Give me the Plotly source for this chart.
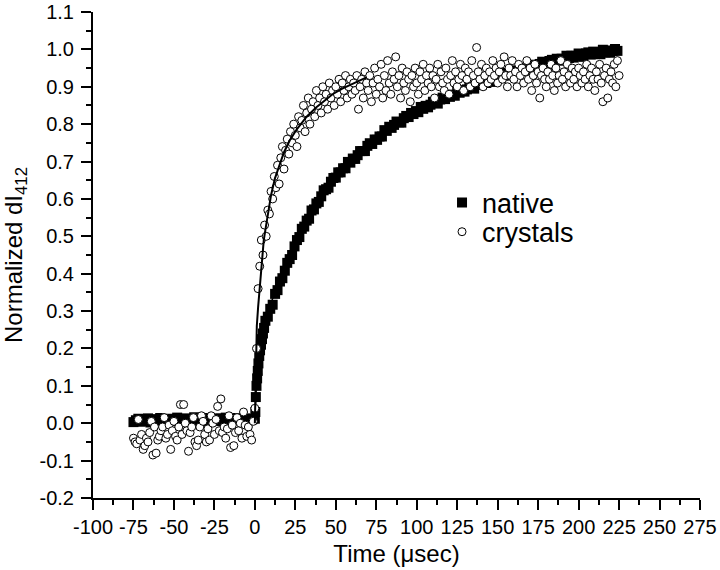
import plotly.graph_objects as go

# native (filled squares) - baseline before the flash, sampled every 1.5 usec from -75
native_pre = [0.003, 0.008, 0.012, 0.004, 0.010, 0.006, 0.013, 0.002, 0.009, 0.011,
              0.005, 0.014, 0.007, 0.003, 0.010, 0.012, 0.006, 0.009, 0.015, 0.004,
              0.008, 0.011, 0.013, 0.006, 0.010, 0.016, 0.007, 0.012, 0.009, 0.005,
              0.011, 0.014, 0.008, 0.010, 0.013, 0.006, 0.012, 0.009, 0.015, 0.007,
              0.011, 0.010, 0.014, 0.008, 0.012, 0.006, 0.013, 0.010, 0.009, 0.011]

# native - fast part right after the flash
native_early_t = [0.0, 0.3, 0.6, 1.0, 1.4, 1.8, 2.2, 2.7, 3.2, 3.8, 4.4, 5.0, 5.7]
native_early_v = [0.012, 0.03, 0.07, 0.10, 0.12, 0.14, 0.16, 0.18, 0.195, 0.21, 0.225, 0.24, 0.255]

# native - slow rise, every 1.5 usec from 6.5
native_rise = [0.274, 0.285, 0.306, 0.317, 0.346, 0.356, 0.379, 0.388, 0.408, 0.429,
               0.439, 0.450, 0.473, 0.490, 0.498, 0.520, 0.526, 0.542, 0.547, 0.569,
               0.572, 0.588, 0.592, 0.607, 0.623, 0.626, 0.630, 0.646, 0.656, 0.657,
               0.671, 0.671, 0.682, 0.682, 0.699, 0.697, 0.708, 0.707, 0.717, 0.728,
               0.728, 0.728, 0.742, 0.749, 0.747, 0.759, 0.758, 0.767, 0.767, 0.784,
               0.782, 0.793, 0.790, 0.798, 0.807, 0.805, 0.804, 0.816, 0.822, 0.819,
               0.830, 0.827, 0.835, 0.832, 0.846, 0.841, 0.849, 0.845, 0.852, 0.860,
               0.857, 0.855, 0.866, 0.871, 0.867, 0.877, 0.873, 0.879, 0.876, 0.889,
               0.884, 0.891, 0.887, 0.893, 0.901, 0.897, 0.895, 0.905, 0.910, 0.905,
               0.915, 0.910, 0.917, 0.913, 0.927, 0.922, 0.929, 0.924, 0.930, 0.937,
               0.933, 0.930, 0.940, 0.944, 0.939, 0.948, 0.943, 0.949, 0.945, 0.958,
               0.952, 0.959, 0.954, 0.961, 0.967, 0.963, 0.959, 0.969, 0.972, 0.967,
               0.975, 0.970, 0.975, 0.971, 0.983, 0.977, 0.983, 0.978, 0.983, 0.989,
               0.984, 0.980, 0.989, 0.992, 0.986, 0.994, 0.988, 0.993, 0.987, 0.999,
               0.992, 0.997, 0.991, 0.996, 1.001, 0.996]

# crystals (open circles) - every 1 usec from -75
crystals_pre = [-0.04, -0.05, -0.055, 0.01, -0.045, -0.03, -0.07, -0.06, -0.04, -0.05,
                -0.025, 0.005, -0.085, -0.01, -0.08, -0.045, -0.035, -0.02, -0.01, 0.015,
                -0.04, -0.03, -0.005, -0.07, -0.02, 0.005, -0.035, -0.045, -0.01, 0.05,
                -0.03, 0.05, 0.0, -0.02, -0.075, -0.025, -0.01, 0.015, -0.05, -0.06,
                -0.045, -0.01, 0.02, 0.005, -0.03, -0.05, -0.015, -0.045, 0.02, 0.0,
                -0.03, 0.01, 0.045, -0.02, 0.065, -0.025, -0.01, -0.04, -0.015, 0.02,
                -0.065, -0.005, -0.06, -0.025, 0.015, -0.02, 0.0, -0.04, 0.03, -0.005,
                -0.035, -0.01, -0.03, -0.045, 0.005]

# crystals - every 1 usec from 0
crystals_post = [0.04, 0.20, 0.36, 0.42, 0.49, 0.45, 0.53, 0.50, 0.57, 0.56,
                 0.62, 0.60, 0.66, 0.63, 0.69, 0.64, 0.71, 0.74, 0.68, 0.73,
                 0.76, 0.72, 0.78, 0.75, 0.80, 0.77, 0.74, 0.82, 0.79, 0.81,
                 0.85, 0.78, 0.83, 0.87, 0.80, 0.84, 0.86, 0.82, 0.89, 0.85,
                 0.87, 0.83, 0.90, 0.86, 0.88, 0.84, 0.91, 0.87, 0.89, 0.85,
                 0.90, 0.88, 0.92, 0.86, 0.91, 0.89, 0.93, 0.87, 0.90, 0.92,
                 0.88, 0.91, 0.89, 0.93, 0.84, 0.90, 0.92, 0.87, 0.94, 0.91,
                 0.89, 0.93, 0.86, 0.91, 0.95, 0.88, 0.92, 0.90, 0.96, 0.87,
                 0.93, 0.89, 0.97, 0.91, 0.88, 0.94, 0.92, 0.98, 0.90, 0.93,
                 0.87, 0.95, 0.91, 0.89, 0.94, 0.92, 0.86, 0.93, 0.90, 0.95,
                 0.91, 0.88, 0.94, 0.92, 0.96, 0.89, 0.93, 0.91, 0.95, 0.90,
                 0.93, 0.87, 0.92, 0.96, 0.90, 0.94, 0.91, 0.89, 0.95, 0.92,
                 0.88, 0.93, 0.97, 0.91, 0.94, 0.90, 0.92, 0.96, 0.93, 0.89,
                 0.95, 0.92, 0.94, 0.90, 0.97, 0.93, 0.91, 1.005, 0.94, 0.92,
                 0.96, 0.90, 0.93, 0.95, 0.91, 0.94, 0.92, 0.97, 0.93, 0.95,
                 0.91, 0.94, 0.96, 0.92, 0.98, 0.93, 0.90, 0.95, 0.93, 0.97,
                 0.92, 0.94, 0.90, 0.96, 0.93, 0.95, 0.91, 0.94, 0.97, 0.92,
                 0.95, 0.89, 0.93, 0.96, 0.91, 0.94, 0.87, 0.93, 0.95, 0.92,
                 0.90, 0.94, 0.92, 0.96, 0.93, 0.89, 0.95, 0.91, 0.93, 0.97,
                 0.92, 0.94, 0.90, 0.96, 0.93, 0.91, 0.95, 0.92, 0.94, 0.90,
                 0.95, 0.93, 0.91, 0.94, 0.92, 0.96, 0.90, 0.93, 0.95, 0.92,
                 0.89, 0.94, 0.92, 0.96, 0.91, 0.86, 0.93, 0.95, 0.87, 0.92,
                 0.94, 0.91, 0.96, 0.90, 0.97, 0.93]

# fitted curves
fit_crystals_t = [0.0, 0.6, 1.2, 2.0, 2.7, 3.5, 4.5, 5.5, 6.8, 8.0, 10.0, 12.4, 14.4,
                  18.0, 21.6, 26.0, 32.0, 38.0, 44.0, 48.0, 54.0, 60.0, 65.0, 69.0]
fit_crystals_v = [0.0, 0.10, 0.26, 0.31, 0.35, 0.40, 0.45, 0.49, 0.525, 0.56, 0.61, 0.655, 0.68,
                  0.725, 0.757, 0.787, 0.82, 0.845, 0.866, 0.88, 0.895, 0.907, 0.917, 0.925]
fit_native_t = [0, 0.5, 1, 2, 3, 4, 6, 9, 12, 15, 20, 25, 30, 40, 50, 60, 75, 90,
                105, 120, 135, 150, 165, 180, 195, 210, 225]
fit_native_v = [0.0, 0.08, 0.11, 0.15, 0.19, 0.215, 0.265, 0.31, 0.345, 0.378, 0.43, 0.48,
                0.525, 0.603, 0.664, 0.713, 0.77, 0.816, 0.853, 0.883, 0.908, 0.93, 0.95,
                0.966, 0.98, 0.991, 1.0]

x_ticks = [-100, -75, -50, -25, 0, 25, 50, 75, 100, 125, 150, 175, 200, 225, 250, 275]
y_ticks = [-0.2, -0.1, 0.0, 0.1, 0.2, 0.3, 0.4, 0.5, 0.6, 0.7, 0.8, 0.9, 1.0, 1.1]

# sampling times
native_t = ([-75 + 1.5 * i for i in range(len(native_pre))] + native_early_t
            + [6.5 + 1.5 * i for i in range(len(native_rise))])
native_v = native_pre + native_early_v + native_rise
crystals_t = [-75 + i for i in range(len(crystals_pre))] + list(range(len(crystals_post)))
crystals_v = crystals_pre + crystals_post

FONT = "Liberation Sans, Arial, sans-serif"

fig = go.Figure()
fig.add_trace(go.Scatter(x=native_t, y=native_v, mode='markers', name='native', legend='legend',
                         marker=dict(symbol='square', size=10, color='black', line=dict(width=0))))
fig.add_trace(go.Scatter(x=fit_native_t, y=fit_native_v, mode='lines', showlegend=False,
                         line=dict(color='black', width=1.5)))
fig.add_trace(go.Scatter(x=crystals_t, y=crystals_v, mode='markers', name='crystals',
                         legend='legend2',
                         marker=dict(symbol='circle', size=8, color='white',
                                     line=dict(color='black', width=1))))
fig.add_trace(go.Scatter(x=fit_crystals_t, y=fit_crystals_v, mode='lines', showlegend=False,
                         line=dict(color='black', width=2)))

axis_common = dict(showline=True, linewidth=2, linecolor='black', showgrid=False,
                   zeroline=False, ticks='outside', ticklen=10, tickwidth=2,
                   tickcolor='black', automargin=False, ticklabeloverflow='allow',
                   tickfont=dict(family=FONT, size=20, color='black'))

legend_common = dict(xanchor='left', yanchor='middle', bgcolor='rgba(0,0,0,0)',
                     font=dict(family=FONT, size=27), itemsizing='trace')

fig.update_layout(
    width=720, height=570,
    margin=dict(l=93, r=20, t=12, b=72),
    plot_bgcolor='white', paper_bgcolor='white',
    font=dict(family=FONT, color='black'),
    xaxis=dict(range=[-100, 275], tickmode='array', tickvals=x_ticks,
               ticktext=[str(v) for v in x_ticks],
               minor=dict(ticks='outside', ticklen=5, tickwidth=2, tickcolor='black',
                          tick0=-100, dtick=12.5),
               title=dict(text='Time (μsec)', font=dict(family=FONT, size=24), standoff=8),
               **axis_common),
    yaxis=dict(range=[-0.2, 1.1], tickmode='array', tickvals=y_ticks,
               ticktext=['%.1f' % v for v in y_ticks],
               minor=dict(ticks='outside', ticklen=5, tickwidth=2, tickcolor='black',
                          tick0=-0.2, dtick=0.05),
               title=dict(text='Normalized dI<sub>412</sub>', font=dict(family=FONT, size=24),
                          standoff=18),
               ticklabelstandoff=3,
               **axis_common),
    legend=dict(x=0.575, y=0.607, **legend_common),
    legend2=dict(x=0.575, y=0.547, **legend_common),
)

# drop the default 8px body margin so the figure fills the window exactly
fig.write_html("out.html", config={'displayModeBar': False},
               post_script="document.body.style.margin = '0';")
